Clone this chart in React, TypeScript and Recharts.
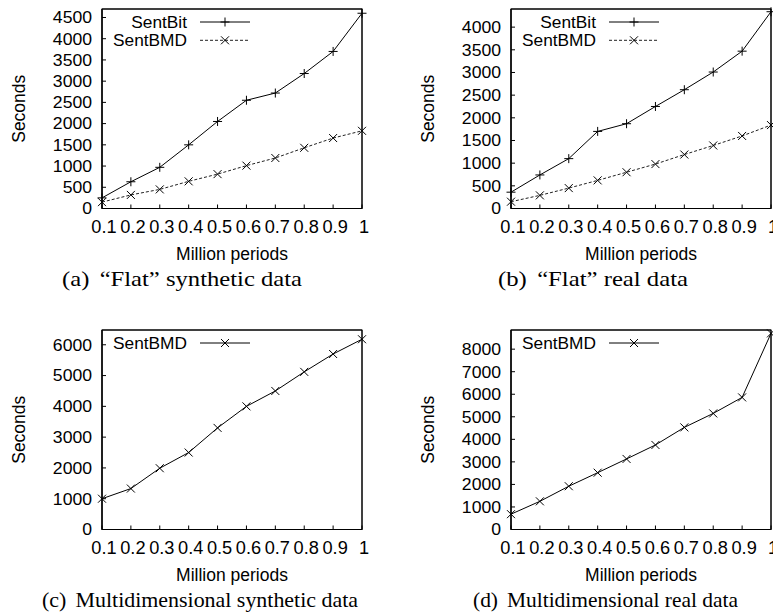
import React from 'react';
import { LineChart, Line, XAxis, YAxis, Label, ReferenceArea } from 'recharts';

// ---------- data ----------
const periods = [0.1, 0.2, 0.3, 0.4, 0.5, 0.6, 0.7, 0.8, 0.9, 1];
const periodTickLabels = ['0.1', '0.2', '0.3', '0.4', '0.5', '0.6', '0.7', '0.8', '0.9', '1'];

const flatSyntheticSentBit = [250, 630, 970, 1500, 2050, 2550, 2720, 3180, 3700, 4600];
const flatSyntheticSentBMD = [150, 320, 450, 640, 810, 1010, 1190, 1430, 1660, 1830];
const flatRealSentBit = [360, 740, 1100, 1700, 1870, 2250, 2620, 3010, 3470, 4340];
const flatRealSentBMD = [150, 290, 450, 620, 800, 980, 1190, 1390, 1600, 1840];
const multiSyntheticSentBMD = [1000, 1330, 1990, 2500, 3300, 4000, 4500, 5120, 5700, 6180];
const multiRealSentBMD = [680, 1250, 1920, 2520, 3130, 3750, 4530, 5150, 5860, 8700];

const flatSyntheticYTicks = [0, 500, 1000, 1500, 2000, 2500, 3000, 3500, 4000, 4500];
const flatRealYTicks = [0, 500, 1000, 1500, 2000, 2500, 3000, 3500, 4000];
const multiSyntheticYTicks = [0, 1000, 2000, 3000, 4000, 5000, 6000];
const multiRealYTicks = [0, 1000, 2000, 3000, 4000, 5000, 6000, 7000, 8000];

const flatSyntheticYMax = 4700;
const flatRealYMax = 4400;
const multiSyntheticYMax = 6480;
const multiRealYMax = 8850;

const X_MIN = 0.1;
const X_MAX = 1;

const SANS = '"Liberation Sans", Arial, Helvetica, sans-serif';
const SERIF = '"Liberation Serif", "Times New Roman", serif';

// panel layout
const PANEL_H = 300;
const Y_AXIS_W = 102;
const X_AXIS_H = 60;
const M_TOP = 9;
const M_BOTTOM = 31.5;
const PLOT_RIGHT = 362;

type Series = { key: string; name: string; marker: 'plus' | 'cross'; dash?: string; values: number[] };

function buildData(series: Series[]) {
  return periods.map((p, i) => {
    const row: Record<string, number> = { period: p };
    series.forEach((s) => {
      row[s.key] = s.values[i];
    });
    return row;
  });
}

function markerPath(kind: 'plus' | 'cross', cx: number, cy: number) {
  if (kind === 'plus') {
    const r = 4.5;
    return `M${cx - r},${cy}H${cx + r}M${cx},${cy - r}V${cy + r}`;
  }
  const r = 4;
  return `M${cx - r},${cy - r}L${cx + r},${cy + r}M${cx - r},${cy + r}L${cx + r},${cy - r}`;
}

const makeDot = (kind: 'plus' | 'cross', prefix: string) => (props: any) => {
  const { cx, cy, index } = props;
  if (cx == null || cy == null) return <g key={`${prefix}-${index}`} />;
  return (
    <path
      key={`${prefix}-${index}`}
      d={markerPath(kind, cx, cy)}
      stroke="#000"
      strokeWidth={1}
      fill="none"
    />
  );
};

const XTick = (props: any) => {
  const { x, y, payload } = props;
  const idx = periods.indexOf(payload.value);
  const label = idx >= 0 ? periodTickLabels[idx] : String(payload.value);
  return (
    <g transform={`translate(${x + 2},${y})`}>
      <text
        transform="scale(1.04,1)"
        textAnchor="middle"
        dy={12.3}
        fontSize={17.5}
        fontFamily={SANS}
        fill="#000"
      >
        {label}
      </text>
    </g>
  );
};

const YTick = (props: any) => {
  const { x, y, payload } = props;
  return (
    <g transform={`translate(${x},${y})`}>
      <text
        transform="scale(1.08,1)"
        textAnchor="end"
        dy={5.8}
        fontSize={16.3}
        fontFamily={SANS}
        fill="#000"
      >
        {payload.value}
      </text>
    </g>
  );
};

const SecondsLabel = (props: any) => {
  const vb = props.viewBox || { x: 0, y: 0, width: 0, height: 0 };
  const x = vb.x + 25;
  const y = vb.y + vb.height / 2;
  return (
    <text
      x={x}
      y={y}
      transform={`rotate(-90, ${x}, ${y})`}
      textAnchor="middle"
      fontSize={17.5}
      fontFamily={SANS}
      fill="#000"
    >
      Seconds
    </text>
  );
};

function LegendBox({ series }: { series: Series[] }) {
  return (
    <svg
      width={262}
      height={52}
      style={{ position: 'absolute', left: 0, top: 0, overflow: 'visible', pointerEvents: 'none' }}
    >
      {series.map((s, i) => {
        const ly = 22 + i * 18.3;
        return (
          <g key={s.key}>
            <text x={187} y={ly + 6} textAnchor="end" fontSize={17.3} fontFamily={SANS} fill="#000">
              {s.name}
            </text>
            <line
              x1={200}
              x2={250}
              y1={ly}
              y2={ly}
              stroke={s.dash ? '#222' : '#000'}
              strokeWidth={1}
              strokeDasharray={s.dash}
            />
            <path d={markerPath(s.marker, 225, ly)} stroke="#000" strokeWidth={1} fill="none" />
          </g>
        );
      })}
    </svg>
  );
}

// plot border, derived from the same layout constants the chart uses
function FrameBox({ width }: { width: number }) {
  const plotBottom = PANEL_H - M_BOTTOM - X_AXIS_H;
  return (
    <svg
      width={width}
      height={PANEL_H}
      style={{ position: 'absolute', left: 0, top: 0, pointerEvents: 'none' }}
    >
      <rect
        x={Y_AXIS_W}
        y={M_TOP}
        width={PLOT_RIGHT - Y_AXIS_W}
        height={plotBottom - M_TOP}
        fill="none"
        stroke="#000"
        strokeWidth={1}
      />
    </svg>
  );
}

type PanelProps = {
  left: number;
  top: number;
  width: number;
  series: Series[];
  yTicks: number[];
  yMax: number;
};

function Panel({ left, top, width, series, yTicks, yMax }: PanelProps) {
  const data = buildData(series);
  return (
    <div style={{ position: 'absolute', left, top, width, height: PANEL_H }}>
      <LineChart
        width={width}
        height={PANEL_H}
        data={data}
        margin={{ top: M_TOP, right: width - PLOT_RIGHT, bottom: M_BOTTOM, left: 0 }}
      >
        <XAxis
          xAxisId="bottom"
          dataKey="period"
          type="number"
          domain={[X_MIN, X_MAX]}
          ticks={periods}
          height={X_AXIS_H}
          interval={0}
          stroke="#000"
          tickSize={-4}
          tickMargin={16.2}
          tick={<XTick />}
        >
          <Label
            value="Million periods"
            position="insideBottom"
            offset={9}
            fontSize={17.5}
            fontFamily={SANS}
            fill="#000"
          />
        </XAxis>
        <YAxis
          yAxisId="left"
          domain={[0, yMax]}
          ticks={yTicks}
          width={Y_AXIS_W}
          interval={0}
          stroke="#000"
          tickSize={-4}
          tickMargin={14}
          tick={<YTick />}
        >
          <Label content={<SecondsLabel />} />
        </YAxis>
        <ReferenceArea
          xAxisId="bottom"
          yAxisId="left"
          x1={X_MIN}
          x2={X_MAX}
          y1={0}
          y2={yMax}
          fill="none"
          stroke="#000"
          strokeWidth={1}
        />
        {series.map((s) => (
          <Line
            key={s.key}
            xAxisId="bottom"
            yAxisId="left"
            type="linear"
            dataKey={s.key}
            name={s.name}
            stroke={s.dash ? '#222' : '#000'}
            strokeWidth={1}
            strokeDasharray={s.dash}
            dot={makeDot(s.marker, s.key)}
            activeDot={false}
            isAnimationActive={false}
          />
        ))}
      </LineChart>
      <FrameBox width={width} />
      <LegendBox series={series} />
    </div>
  );
}

const captions = [
  { label: '(a)', text: '\u201CFlat\u201D synthetic data', x: 62, y: 285.5, w: 240 },
  { label: '(b)', text: '\u201CFlat\u201D real data', x: 498, y: 285.5, w: 190 },
  { label: '(c)', text: 'Multidimensional synthetic data', x: 42, y: 606.5, w: 316 },
  { label: '(d)', text: 'Multidimensional real data', x: 473, y: 606.5, w: 265 },
];

export default function App() {
  return (
    <div style={{ position: 'absolute', left: 0, top: 0, width: 773, height: 614, background: '#fff', overflow: 'hidden' }}>
      <Panel
        left={0}
        top={0}
        width={386}
        yTicks={flatSyntheticYTicks}
        yMax={flatSyntheticYMax}
        series={[
          { key: 'sentBit', name: 'SentBit', marker: 'plus', values: flatSyntheticSentBit },
          { key: 'sentBMD', name: 'SentBMD', marker: 'cross', dash: '3 2', values: flatSyntheticSentBMD },
        ]}
      />
      <Panel
        left={409}
        top={0}
        width={364}
        yTicks={flatRealYTicks}
        yMax={flatRealYMax}
        series={[
          { key: 'sentBit', name: 'SentBit', marker: 'plus', values: flatRealSentBit },
          { key: 'sentBMD', name: 'SentBMD', marker: 'cross', dash: '3 2', values: flatRealSentBMD },
        ]}
      />
      <Panel
        left={0}
        top={320.5}
        width={386}
        yTicks={multiSyntheticYTicks}
        yMax={multiSyntheticYMax}
        series={[{ key: 'sentBMD', name: 'SentBMD', marker: 'cross', values: multiSyntheticSentBMD }]}
      />
      <Panel
        left={409}
        top={320.5}
        width={364}
        yTicks={multiRealYTicks}
        yMax={multiRealYMax}
        series={[{ key: 'sentBMD', name: 'SentBMD', marker: 'cross', values: multiRealSentBMD }]}
      />
      <svg width={773} height={614} style={{ position: 'absolute', left: 0, top: 0, pointerEvents: 'none' }}>
        {captions.map((c) => (
          <text
            key={c.label}
            x={c.x}
            y={c.y}
            fontSize={21.5}
            fontFamily={SERIF}
            fill="#000"
            textLength={c.w}
            lengthAdjust="spacingAndGlyphs"
          >
            <tspan>{c.label}</tspan>
            <tspan dx={9}>{c.text}</tspan>
          </text>
        ))}
      </svg>
    </div>
  );
}
